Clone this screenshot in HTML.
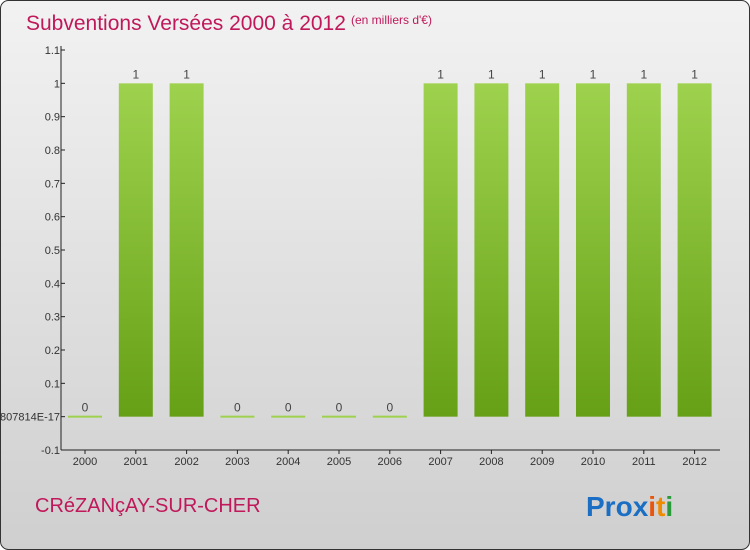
<!DOCTYPE html>
<html><head><meta charset="utf-8"><style>
body{margin:0;}
#wrap{position:relative;width:750px;height:550px;overflow:hidden;font-family:"Liberation Sans",sans-serif;}
</style></head><body>
<div id="wrap">
<svg id="chart" width="750" height="550">
<defs>
<linearGradient id="bg" x1="0" y1="0" x2="0" y2="1"><stop offset="0" stop-color="#f2f2f2"/><stop offset="1" stop-color="#cfcfcf"/></linearGradient>
<linearGradient id="bar" x1="0" y1="0" x2="0" y2="1"><stop offset="0" stop-color="#9ed24e"/><stop offset="1" stop-color="#66a016"/></linearGradient>
</defs>
<rect x="0.5" y="0.5" width="749" height="549" rx="8" fill="url(#bg)" stroke="#333"/>
<text x="26" y="30" font-size="21" fill="#c0185a">Subventions Versées 2000 à 2012</text>
<text x="351" y="24" font-size="12" fill="#c0185a">(en milliers d'€)</text>
<text x="35" y="512" font-size="20" fill="#c0185a">CRéZANçAY-SUR-CHER</text>
<g font-size="28" font-weight="bold">
<text x="586" y="516"><tspan fill="#1a6fc4">Pro</tspan><tspan fill="#1a6fc4">x</tspan><tspan fill="#e8550d">i</tspan><tspan fill="#f08a00">t</tspan><tspan fill="#2a9a3a">i</tspan></text>
</g>
<g id="axes"></g>
<g id="bars"></g>
</svg>
</div>
<script>
const categories=["2000","2001","2002","2003","2004","2005","2006","2007","2008","2009","2010","2011","2012"];
const values=[0,1,1,0,0,0,0,1,1,1,1,1,1];
const valueLabels=["0","1","1","0","0","0","0","1","1","1","1","1","1"];
const yTicks=[-0.1,0,0.1,0.2,0.3,0.4,0.5,0.6,0.7,0.8,0.9,1,1.1];
const yTickLabels=["-0.1","1.3877787807814E-17","0.1","0.2","0.3","0.4","0.5","0.6","0.7","0.8","0.9","1","1.1"];
const NS="http://www.w3.org/2000/svg";
const axisX=61,yMin=-0.1,yMax=1.1,yTop=50,yBot=450;
const slot=(700-61-6)/categories.length*1.0;
function y(v){return yBot-(v-yMin)/(yMax-yMin)*(yBot-yTop);}
function xc(i){return 85+i*50.8;}
function mk(tag,attrs,parent){const e=document.createElementNS(NS,tag);for(const k in attrs)e.setAttribute(k,attrs[k]);parent.appendChild(e);return e;}
const ax=document.getElementById('axes'),bg=document.getElementById('bars');
const yl=mk('line',{x1:axisX,y1:yTop-4,x2:axisX,y2:yBot,stroke:'#222'},ax);


const xl=mk('line',{x1:axisX,y1:yBot,x2:720,y2:yBot,stroke:'#222'},ax);


yTicks.forEach((t,i)=>{
  const yy=y(t);
  mk('line',{x1:axisX,y1:yy,x2:axisX+4,y2:yy,stroke:'#222'},ax);
  const tx=mk('text',{x:axisX-1,y:yy+4,'font-size':11,fill:'#333','text-anchor':'end'},ax);
  tx.textContent=yTickLabels[i];
  
  
});
categories.forEach((c,i)=>{
  const cx=xc(i);
  mk('line',{x1:cx,y1:yBot,x2:cx,y2:yBot+4,stroke:'#222'},ax);
  const tx=mk('text',{x:cx,y:yBot+15,'font-size':11,fill:'#333','text-anchor':'middle'},ax);
  tx.textContent=c;
  
  
  const v=values[i];
  const top=y(Math.max(v,0)),bot=y(Math.min(v,0));
  const h=Math.max(bot-top,2);
  const r=mk('rect',{x:cx-17,y:v>0?top:y(0)-1,width:34,height:h,fill:v>0?'url(#bar)':'#9ed24e'},bg);
  
  
  const lb=mk('text',{x:cx,y:top-5,'font-size':12,fill:'#444','text-anchor':'middle'},bg);
  lb.textContent=valueLabels[i];
  
  
});
</script>
</body></html>
